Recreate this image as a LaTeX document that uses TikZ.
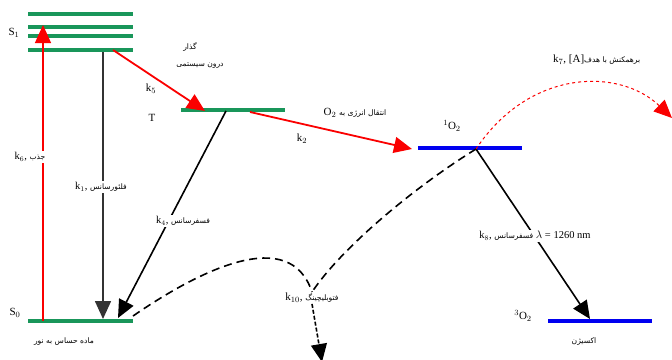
\documentclass[tikz,border=0pt]{standalone}
\usepackage{fontspec}
\setmainfont{Liberation Serif}
\newfontfamily\fa[Script=Arabic]{DejaVu Sans}
\TeXXeTstate=1
\usetikzlibrary{arrows.meta}
\definecolor{lvgreen}{RGB}{25,150,90}
\definecolor{lvblue}{RGB}{0,0,240}
\definecolor{arred}{RGB}{250,0,0}
\newcommand{\fat}[1]{{\fa\fontsize{7.6}{9}\selectfont\beginR #1\endR}}
\begin{document}
\begin{tikzpicture}[x=1pt,y=-1pt,
  lvg/.style={draw=lvgreen,line width=3.2pt},
  lvb/.style={draw=lvblue,line width=3.2pt},
  tip/.style={-{Triangle[length=18pt,width=16pt]}},
  redarr/.style={arred,line width=1.8pt,tip},
  blkarr/.style={black,line width=1.6pt,tip},
  lbl/.style={font=\fontsize{11}{12}\selectfont,inner sep=1pt},
  wl/.style={fill=white,inner sep=1.5pt,font=\fontsize{10.5}{12}\selectfont}]
\useasboundingbox (0,0) rectangle (672,359);
% S1 levels
\foreach \y/\n in {14/a,27/b,36/c,50/d}{
  \coordinate (s1\n L) at (28,\y); \coordinate (s1\n R) at (133,\y);
  \draw[lvg] (s1\n L) -- (s1\n R);}
\node[lbl] (S1) at (14,33) {S$_1$};
% S0
\coordinate (s0L) at (28,321); \coordinate (s0R) at (133,321);
\draw[lvg] (s0L) -- (s0R);
\node[lbl] (S0) at (15,313) {S$_0$};
\node (s0t) at (64,342) {\fat{ماده حساس به نور}};
% T
\coordinate (tL) at (181,110); \coordinate (tR) at (285,110);
\draw[lvg] (tL) -- (tR);
\node[lbl] (k5) at (151,89) {k$_5$};
\node[lbl] (T) at (152,118) {T};
\node (isc1) at (190,47) {\fat{گذار}};
\node (isc2) at (200,66) {\fat{درون سیستمی}};
% 1O2
\coordinate (oL) at (418,148); \coordinate (oR) at (522,148);
\draw[lvb] (oL) -- (oR);
\node[lbl] (o1) at (452,126) {$^1$O$_2$};
% 3O2
\coordinate (tOL) at (548,321); \coordinate (tOR) at (652,321);
\draw[lvb] (tOL) -- (tOR);
\node[lbl] (o3) at (523,316) {$^3$O$_2$};
\node (oxy) at (584,342) {\fat{اکسیژن}};
% coordinates for connectors
\coordinate (absB) at (43,321); \coordinate (absT) at (43,25);
\coordinate (flT) at (103,52); \coordinate (flB) at (103,319);
\coordinate (iscS) at (113,50); \coordinate (iscE) at (205,111);
\coordinate (phS) at (226,111); \coordinate (phE) at (118,318);
\coordinate (etS) at (250,112); \coordinate (etE) at (412,149);
\coordinate (oC) at (476,149);
\coordinate (o3E) at (590,319);
\coordinate (rEnd) at (672,118);
\coordinate (pbE) at (322,362);
% absorption
\draw[arred,line width=1.2pt,tip] (absB) -- (absT);
\node[wl] (kabs) at (30,157) {k$_6$, \fat{جذب}};
% fluorescence
\draw[blkarr,draw=black!80] (flT) -- (flB);
\node[wl] (kfl) at (101,187) {k$_1$, \fat{فلئورسانس}};
% ISC
\draw[redarr] (iscS) -- (iscE);
% phosphorescence
\draw[blkarr] (phS) -- (phE);
\node[wl] (kph) at (183,221) {k$_4$, \fat{فسفرسانس}};
% energy transfer
\draw[redarr] (etS) -- (etE);
\node[lbl] (et) at (355,113) {O$_2$ \fat{انتقال انرژی به}};
\node[lbl] (k2) at (302,139) {k$_2$};
% 1O2 -> 3O2
\draw[blkarr] (oC) -- (o3E);
\node[wl] (k8) at (535,236) {k$_8$, \fat{فسفرسانس} $\lambda$ = 1260 nm};
% target interaction
\draw[arred,line width=1pt,dash pattern=on 3pt off 3pt,-{Triangle[length=18pt,width=16pt]}] (oC) .. controls (530,68) and (620,68) .. (rEnd);
\node[lbl,anchor=west] (tgt) at (552,60) {k$_7$, [A]\fat{برهمکنش با هدف}};
% photobleaching
\node[lbl] (kpb) at (312,298) {k$_{10}$, \fat{فتوبلیچینگ}};
\draw[black,line width=1.6pt,dash pattern=on 8pt off 5pt] (133,316) .. controls (200,270) and (290,225) .. (kpb.north);
\draw[black,line width=1.6pt,dash pattern=on 8pt off 5pt] (oC) .. controls (410,190) and (340,250) .. (kpb.north);
\draw[black,line width=1.6pt,dash pattern=on 4pt off 2pt,tip] (kpb.south) -- (pbE);
\end{tikzpicture}
\end{document}
